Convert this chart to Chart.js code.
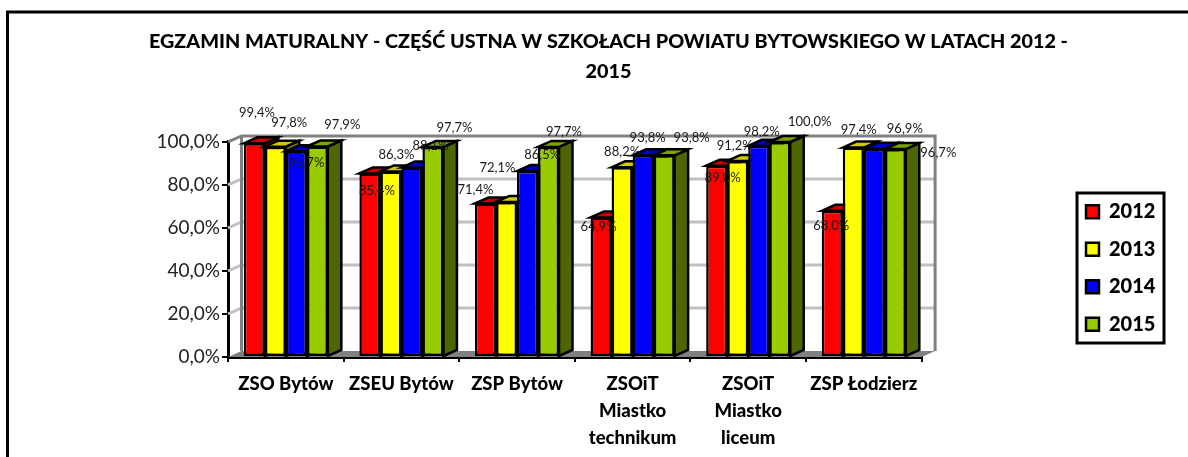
<!DOCTYPE html>
<html><head><meta charset="utf-8">
<script src="https://cdn.jsdelivr.net/npm/chart.js@4"></script>
<style>html,body{margin:0;padding:0;background:#fff;overflow:hidden}canvas{display:block}</style>
</head><body><canvas id="c" width="1188" height="457"></canvas>
<script>
const categories = ['ZSO Bytów','ZSEU Bytów','ZSP Bytów',['ZSOiT','Miastko','technikum'],['ZSOiT','Miastko','liceum'],'ZSP Łodzierz'];
const seriesNames = ['2012','2013','2014','2015'];
const values2012 = [99.4,85.4,71.4,64.9,89.0,68.0];
const values2013 = [97.8,86.3,72.1,88.2,91.2,97.4];
const values2014 = [95.7,88.1,86.5,93.8,98.2,96.9];
const values2015 = [97.9,97.7,97.7,93.8,100.0,96.7];
const yTicks = [0,20,40,60,80,100];
const title = ['EGZAMIN MATURALNY - CZĘŚĆ USTNA W SZKOŁACH POWIATU BYTOWSKIEGO W LATACH 2012 -','2015'];

const fronts = ['#ff0000','#ffff00','#0000ff','#99cc00'];
const tops   = ['#cc0000','#cccc00','#0000cc','#7aa300'];
const sides  = ['#7f0000','#7f7f00','#00007f','#4d6600'];
const DX = 13.5, DY = 6;
const fontFam = 'Lato, "Open Sans", sans-serif';
const fmt = v => v.toFixed(1).replace('.', ',') + '%';
// where the original chart left each data label, relative to the top of its bar: [dx, dy]
const labelShift = [
 [[2.7,-30.6],[7,17.3],[-10,-13.5],[-2.5,9.2],[6,12],[-1,15]],
 [[14,-24],[5.5,-16.5],[-9,-34],[0,-15.4],[-3,-15.4],[5.5,-17.6]],
 [[10,12],[18.5,-22],[14.7,-16],[4.5,-17.6],[3,-14.4],[30.5,-19.7]],
 [[25,-21.5],[21.5,-19.3],[15.5,-15],[27.5,-17.6],[30,-20.3],[43,4]]
];
function poly(ctx, pts, fill, stroke, lw){
  ctx.beginPath(); pts.forEach((p,i)=> i?ctx.lineTo(p[0],p[1]):ctx.moveTo(p[0],p[1])); ctx.closePath();
  if(fill){ctx.fillStyle=fill;ctx.fill();}
  if(stroke){ctx.strokeStyle=stroke;ctx.lineWidth=lw;ctx.lineJoin='miter';ctx.stroke();}
}
const legendBox = {left:1077,right:1164,top:193,bottom:343};
const scene = {
  id:'scene',
  afterLayout(chart){
    const t = chart.titleBlock; t.left = 149; t.right = 1068;
    const l = chart.legend;
    l.maxHeight = 300; l.maxWidth = 200; l.fit();
    l.left = legendBox.left - 8.5; l.right = l.left + l.width; l.top = legendBox.top - 30; l.bottom = legendBox.bottom + 30;
  },
  beforeDraw(chart){
    const c = chart.ctx; c.save();
    c.fillStyle='#fff'; c.fillRect(0,0,chart.width,chart.height);
    c.strokeStyle='#000'; c.lineWidth=3;
    c.beginPath(); c.moveTo(7.5,470); c.lineTo(7.5,12); c.lineTo(1190,12); c.stroke();
    c.restore();
  },
  beforeDatasetsDraw(chart){
    const c = chart.ctx, a = chart.chartArea, y = chart.scales.y;
    const L=a.left, R=a.right, B=y.getPixelForValue(0), T=y.getPixelForValue(100);
    c.save();
    poly(c,[[L,B],[R,B],[R+DX,B-DY],[L+DX,B-DY]],'#808080');
    c.lineWidth=3; c.strokeStyle='#c0c0c0';
    yTicks.slice(1,-1).forEach(v=>{const p=y.getPixelForValue(v);
      c.beginPath(); c.moveTo(L,p); c.lineTo(L+DX,p-DY); c.lineTo(R+DX,p-DY); c.stroke();});
    c.strokeStyle='#808080';
    c.beginPath(); c.moveTo(L,T); c.lineTo(L+DX,T-DY); c.lineTo(R+DX,T-DY); c.lineTo(R+DX,B-DY); c.stroke();
    c.beginPath(); c.moveTo(L+DX,T-DY); c.lineTo(L+DX,B-DY); c.stroke();
    c.restore();
    chart.data.datasets.forEach((ds,i)=>{
      chart.getDatasetMeta(i).data.forEach(bar=>{
        const hw=bar.width/2, x0=bar.x-hw, x1=bar.x+hw, yt=bar.y, yb=bar.base;
        poly(c,[[x1,yt],[x1+DX,yt-DY],[x1+DX,yb-DY],[x1,yb]],sides[i],'#000',2.5);
        poly(c,[[x0,yt],[x0+DX,yt-DY],[x1+DX,yt-DY],[x1,yt]],tops[i],'#000',2.5);
        bar.draw(c);
      });
    });
  },
  beforeDatasetDraw(){ return false; },
  afterDatasetsDraw(chart){
    const c = chart.ctx; c.save();
    c.fillStyle='#1a1a1a'; c.font='13px '+fontFam; c.textAlign='center'; c.textBaseline='middle';
    chart.data.datasets.forEach((ds,i)=>{
      chart.getDatasetMeta(i).data.forEach((bar,j)=>{
        const s=labelShift[i][j];
        c.fillText(fmt(ds.data[j]), bar.x+s[0], bar.y+s[1]);
      });
    });
    c.restore();
  },
  afterDraw(chart){
    const c = chart.ctx, b = legendBox; c.save();
    c.strokeStyle='#000'; c.lineWidth=3;
    c.strokeRect(b.left,b.top,b.right-b.left,b.bottom-b.top);
    c.restore();
  }
};
const allValues = [values2012,values2013,values2014,values2015];
new Chart(document.getElementById('c'),{
  type:'bar',
  data:{labels:categories,datasets:seriesNames.map((n,i)=>({
    label:n,data:allValues[i],backgroundColor:fronts[i],borderColor:'#000',borderWidth:2.5,borderSkipped:false,
    categoryPercentage:0.727,barPercentage:1}))},
  plugins:[scene],
  options:{
    responsive:false,animation:false,
    layout:{padding:{left:0,right:169.5,top:27,bottom:0}},
    plugins:{
      tooltip:{enabled:false},
      title:{display:true,text:title,color:'#000',font:{family:fontFam,size:19.8,weight:'900',lineHeight:1.515},padding:{top:0,bottom:55}},
      legend:{position:'right',align:'center',labels:{color:'#000',boxWidth:13,boxHeight:13,padding:17.5,font:{family:fontFam,size:20,weight:'900'}}}
    },
    scales:{
      x:{grid:{display:true,drawOnChartArea:false,color:'#000',lineWidth:2,tickLength:5,offset:true},
         border:{color:'#000',width:3},
         ticks:{color:'#000',maxRotation:0,autoSkip:false,padding:8,font:{family:fontFam,size:18.5,weight:'900',lineHeight:1.47}},
         afterFit(s){s.height=100;}},
      y:{min:0,max:100,grid:{display:true,drawOnChartArea:false,color:'#000',lineWidth:2,tickLength:6},
         border:{color:'#000',width:3},
         afterBuildTicks(s){s.ticks=yTicks.map(v=>({value:v}));},
         ticks:{color:'#222',padding:2,font:{family:fontFam,size:19},callback:v=>fmt(v)},
         afterFit(s){s.width=228;}}
    }
  }
});
</script></body></html>
